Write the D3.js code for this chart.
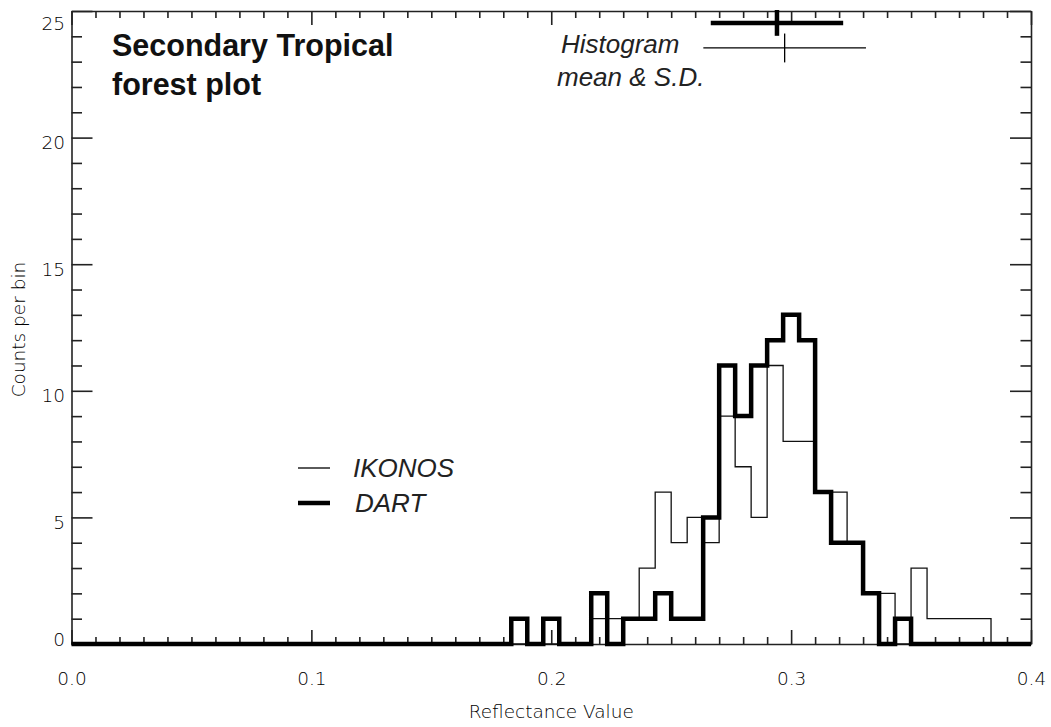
<!DOCTYPE html>
<html>
<head>
<meta charset="utf-8">
<script src="https://cdn.jsdelivr.net/npm/d3@7"></script>
<style>
  body { margin: 0; background: #fff; }
  svg { display: block; }
  .axis text { font-family: "DejaVu Sans", sans-serif; font-size: 18.5px; font-weight: 200; fill: #000; }
  .axis path, .axis line { stroke: #222; stroke-width: 1.6; }
</style>
</head>
<body>
<div id="chart"></div>
<script>
// histogram bins: centres start at 28/150, width 1/150
const binWidth = 1 / 150;
const firstBinCenter = 28 / 150;
const dartCounts   = [1, 0, 1, 0, 0, 2, 0, 1, 1, 2, 1, 1, 5, 11, 9, 11, 12, 13, 12, 6, 4, 4, 2, 0, 1, 0, 0, 0, 0, 0, 0];
const ikonosCounts = [0, 0, 0, 0, 0, 1, 1, 1, 3, 6, 4, 5, 4, 9, 7, 5, 11, 8, 8, 6, 6, 4, 2, 2, 0, 3, 1, 1, 1, 1, 0];

// mean and S.D. markers at the top
const statNames = ["DART", "IKONOS"];
const statMeans = [0.2941, 0.2973];
const statSDs   = [0.0276, 0.0339];
const statRows  = [24.53, 23.54];

const xMajorTicks = [0, 0.1, 0.2, 0.3, 0.4];
const yMajorTicks = [0, 5, 10, 15, 20, 25];

const legendNames = ["IKONOS", "DART"];

const width = 1051, height = 727;
const margin = {left: 71.5, right: 20, top: 11, bottom: 83};

const svg = d3.select("#chart").append("svg")
    .attr("width", width)
    .attr("height", height);

const x = d3.scaleLinear().domain([0, 0.4]).range([margin.left, width - margin.right]);
const y = d3.scaleLinear().domain([0, 25]).range([height - margin.bottom, margin.top]);

const xMinor = d3.range(0, 41).map(i => i / 100).filter(v => !xMajorTicks.some(m => Math.abs(m - v) < 1e-9));
const yMinor = d3.range(0, 26).filter(v => v % 5 != 0);

// axes on all four sides, ticks inward
function minorAxis(axis, vals, size){
    return axis.tickValues(vals).tickSize(size).tickSizeOuter(0).tickFormat("");
}

let gBottom = svg.append("g").attr("class", "axis")
    .attr("transform", `translate(0,${y(0)})`)
    .call(d3.axisBottom(x).tickValues(xMajorTicks).tickSize(-14).tickSizeOuter(0).tickPadding(28).tickFormat(d3.format(".1f")));
svg.append("g").attr("class", "axis minor")
    .attr("transform", `translate(0,${y(0)})`)
    .call(minorAxis(d3.axisBottom(x), xMinor, -7));

svg.append("g").attr("class", "axis")
    .attr("transform", `translate(0,${y(25)})`)
    .call(d3.axisTop(x).tickValues(xMajorTicks).tickSize(-14).tickSizeOuter(0).tickFormat(""));
svg.append("g").attr("class", "axis minor")
    .attr("transform", `translate(0,${y(25)})`)
    .call(minorAxis(d3.axisTop(x), xMinor, -7));

let gLeft = svg.append("g").attr("class", "axis")
    .attr("transform", `translate(${x(0)},0)`)
    .call(d3.axisLeft(y).tickValues(yMajorTicks).tickSize(-21).tickSizeOuter(0).tickPadding(6.5));
svg.append("g").attr("class", "axis minor")
    .attr("transform", `translate(${x(0)},0)`)
    .call(minorAxis(d3.axisLeft(y), yMinor, -10.5));

svg.append("g").attr("class", "axis")
    .attr("transform", `translate(${x(0.4)},0)`)
    .call(d3.axisRight(y).tickValues(yMajorTicks).tickSize(-21).tickSizeOuter(0).tickFormat(""));
svg.append("g").attr("class", "axis minor")
    .attr("transform", `translate(${x(0.4)},0)`)
    .call(minorAxis(d3.axisRight(y), yMinor, -10.5));

svg.selectAll(".minor path").remove();

// y labels sit a little below their tick, kept inside the frame
gLeft.selectAll("text")
    .attr("dy", null)
    .attr("y", d => Math.min(Math.max(y(d) + 11, 29), 645) - y(d));

// axis titles
svg.append("text")
    .attr("x", (x(0) + x(0.4)) / 2)
    .attr("y", 718)
    .attr("text-anchor", "middle")
    .style("font-family", "DejaVu Sans, sans-serif")
    .style("font-size", "18.5px")
    .style("font-weight", 200)
    .attr("fill", "#000")
    .text("Reflectance Value");

svg.append("text")
    .attr("transform", `translate(25,${(y(0) + y(25)) / 2 + 2}) rotate(-90)`)
    .attr("text-anchor", "middle")
    .style("font-family", "DejaVu Sans, sans-serif")
    .style("font-size", "18.5px")
    .style("font-weight", 200)
    .attr("fill", "#000")
    .text("Counts per bin");

// histograms as steps
function stepPoints(counts){
    let pts = [[0, 0]];
    counts.forEach((c, i) => {
        pts.push([firstBinCenter + i * binWidth - binWidth / 2, c]);
    });
    pts.push([firstBinCenter + counts.length * binWidth - binWidth / 2, 0]);
    pts.push([0.4, 0]);
    return pts;
}

const line = d3.line()
    .x(d => x(d[0]))
    .y(d => y(d[1]))
    .curve(d3.curveStepAfter);

svg.append("path")
    .datum(stepPoints(ikonosCounts))
    .attr("d", line)
    .attr("fill", "none")
    .attr("stroke", "#111")
    .attr("stroke-width", 1.3);

svg.append("path")
    .datum(stepPoints(dartCounts))
    .attr("d", line)
    .attr("fill", "none")
    .attr("stroke", "#000")
    .attr("stroke-width", 4.5)
    .attr("stroke-linejoin", "miter");

// mean & S.D. markers
const statWidths = [4.5, 1.3];
const statHalf = [0.51, 0.57];
statNames.forEach((name, i) => {
    let g = svg.append("g");
    g.append("line")
        .attr("x1", x(statMeans[i] - statSDs[i]))
        .attr("x2", x(statMeans[i] + statSDs[i]))
        .attr("y1", y(statRows[i]))
        .attr("y2", y(statRows[i]))
        .attr("stroke", "#000")
        .attr("stroke-width", statWidths[i]);
    g.append("line")
        .attr("x1", x(statMeans[i]))
        .attr("x2", x(statMeans[i]))
        .attr("y1", y(statRows[i] - statHalf[i]))
        .attr("y2", y(statRows[i] + statHalf[i]))
        .attr("stroke", "#000")
        .attr("stroke-width", statWidths[i]);
});

const labelFont = "Liberation Sans, Arial, sans-serif";

svg.append("text")
    .attr("x", 561).attr("y", 53)
    .style("font-family", labelFont).style("font-size", "26px").style("font-style", "italic")
    .attr("fill", "#222")
    .text("Histogram");
svg.append("text")
    .attr("x", 557).attr("y", 86)
    .style("font-family", labelFont).style("font-size", "26px").style("font-style", "italic")
    .attr("fill", "#222")
    .text("mean & S.D.");

// title
const title = svg.append("text")
    .attr("x", 112)
    .style("font-family", labelFont).style("font-size", "30.5px").style("font-weight", "bold")
    .attr("fill", "#111");
title.append("tspan").attr("x", 112).attr("y", 56).text("Secondary Tropical");
title.append("tspan").attr("x", 112).attr("y", 95).text("forest plot");

// legend
const legendWidths = [1.3, 4.5];
const legendY = [468, 503];
legendNames.forEach((name, i) => {
    svg.append("line")
        .attr("x1", 298).attr("x2", 330)
        .attr("y1", legendY[i]).attr("y2", legendY[i])
        .attr("stroke", "#000")
        .attr("stroke-width", legendWidths[i]);
    svg.append("text")
        .attr("x", 353 + i * 2).attr("y", legendY[i] + 9)
        .style("font-family", labelFont).style("font-size", "26px").style("font-style", "italic")
        .attr("fill", "#222")
        .text(name);
});
</script>
</body>
</html>
